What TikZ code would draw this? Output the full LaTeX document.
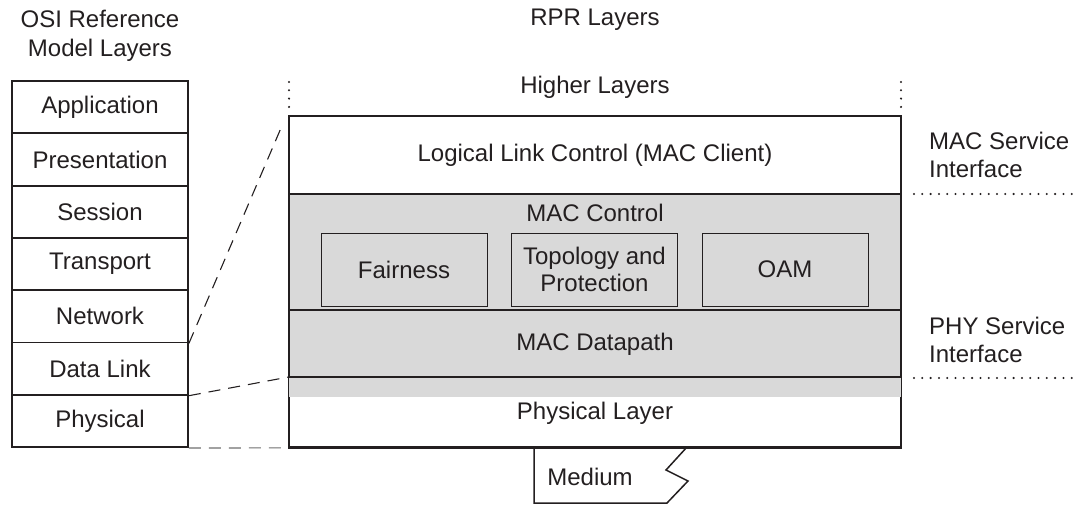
\documentclass[tikz,border=0pt]{standalone}
\usepackage{fontspec}
\setmainfont{Liberation Sans}
\usetikzlibrary{calc}
\definecolor{ln}{HTML}{231F20}
\definecolor{fillg}{HTML}{D9D9D9}
\definecolor{dashg}{HTML}{6E6E6E}
\begin{document}
\begin{tikzpicture}[x=1pt,y=-1pt,
  every node/.style={font=\fontsize{24}{28.5}\selectfont, text=ln, inner sep=0pt},
  osibox/.style={draw=ln, line width=1.8pt, minimum width=176pt, minimum height=52.3pt},
  layer/.style={draw=ln, line width=1.8pt, minimum width=612pt},
  inner/.style={draw=ln, line width=0.9pt, minimum width=166pt, minimum height=73pt, align=center},
  zoomline/.style={ln, line width=1.1pt, dash pattern=on 12pt off 8pt},
  dotline/.style={ln, line width=2.3pt, dash pattern=on 0pt off 8.3pt, line cap=round},
  lbl/.style={align=center}]
\useasboundingbox (0,0) rectangle (1087,506);

% titles
\node[lbl] (osititle) at (100,36) {OSI Reference\\Model Layers};
\node[lbl] (rprtitle) at (595,20) {RPR Layers};

% OSI stack
\foreach \t [count=\i] in {Application,Presentation,Session,Transport,Network,Data Link,Physical}{
  \node[osibox] (osi\i) at (100,{81+52.3*(\i-0.5)}) {\t};
}

% RPR layers
\node[layer, fill=white, minimum height=78pt] (llc) at (595,155) {Logical Link Control (MAC Client)};
\node[layer, fill=fillg, minimum height=116pt] (macctl) at (595,252) {};
\node[layer, fill=fillg, minimum height=68pt] (datapath) at (595,344) {MAC Datapath};
\node[layer, fill=white, minimum height=69pt] (phy) at (595,412.5) {};
\fill[fillg] ($(phy.north west)+(0.9,0.9)$) rectangle ($(phy.north east)+(-0.9,20)$);
\draw[ln, line width=1.8pt] (phy.north west) -- (phy.north east);
\node (phytext) at (595,413) {Physical Layer};
\node (macctltext) at (595,213) {MAC Control};
\node (higher) at (595,87) {Higher Layers};

% inner boxes
\node[inner] (fair) at (404,269.5) {Fairness};
\node[inner] (topo) at (594.5,269.5) {Topology and\\[-2pt]Protection};
\node[inner] (oam) at (785,269.5) {OAM};

% medium
\node (medium) at (590,477) {Medium};
\draw[ln, line width=1.5pt, line join=miter] (534,447) -- (534,503) -- (667,503) -- (688,481) -- (666,470) -- (687,447);
\draw[ln, line width=1.8pt] (phy.south west) -- (phy.south east);

% side labels
\node[align=left, anchor=west] (macsi) at (929,155) {MAC Service\\Interface};
\node[align=left, anchor=west] (physi) at (929,340) {PHY Service\\Interface};

% dotted lines
\coordinate (dl1) at (289,82);
\coordinate (dl2) at (289,109);
\coordinate (dr1) at (901,82);
\coordinate (dr2) at (901,109);
\draw[dotline] (dl1) -- (dl2);
\draw[dotline] (dr1) -- (dr2);
\coordinate (h1a) at (914,194);
\coordinate (h1b) at (1074,194);
\coordinate (h2a) at (914,378);
\coordinate (h2b) at (1074,378);
\draw[dotline] (h1a) -- (h1b);
\draw[dotline] (h2a) -- (h2b);

% zoom lines
\coordinate (llctop) at (281,128);
\draw[zoomline] (osi5.south east) -- (llctop);
\draw[zoomline] (osi6.south east) -- (phy.north west);
\draw[zoomline, dashg] (osi7.south east) -- (phy.south west);
\end{tikzpicture}
\end{document}
